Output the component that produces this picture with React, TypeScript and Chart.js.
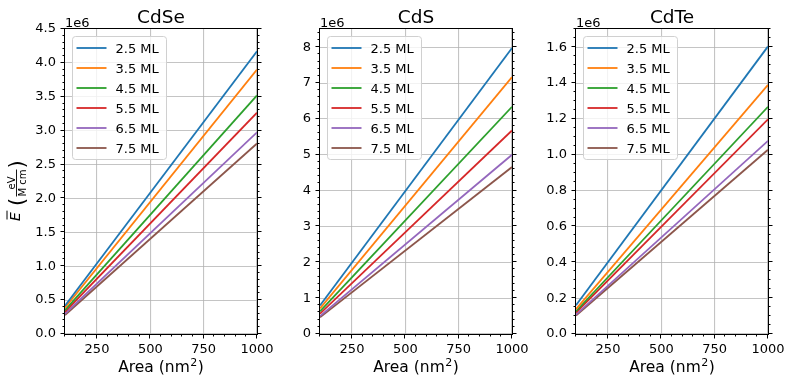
import React, { useEffect, useRef } from "react";
import { Chart, registerables } from "chart.js";

Chart.register(...registerables);

const W = 793;
const H = 385;
const FONT = "'DejaVu Sans', sans-serif";

// ---- data ----
const areas = [100, 1000];
const seriesLabels = ["2.5 ML", "3.5 ML", "4.5 ML", "5.5 ML", "6.5 ML", "7.5 ML"];
const seriesColors = ["#1f77b4", "#ff7f0e", "#2ca02c", "#d62728", "#9467bd", "#8c564b"];

// mean energy (eV / M cm) at areas[0] and areas[1]
const cdseValues = [
  [0.417e6, 4.17e6],
  [0.39e6, 3.9e6],
  [0.352e6, 3.52e6],
  [0.327e6, 3.265e6],
  [0.298e6, 2.975e6],
  [0.281e6, 2.81e6],
];
const cdsValues = [
  [0.798e6, 7.98e6],
  [0.717e6, 7.17e6],
  [0.634e6, 6.34e6],
  [0.568e6, 5.68e6],
  [0.5e6, 5.0e6],
  [0.466e6, 4.66e6],
];
const cdteValues = [
  [0.161e6, 1.605e6],
  [0.139e6, 1.39e6],
  [0.127e6, 1.268e6],
  [0.12e6, 1.198e6],
  [0.108e6, 1.078e6],
  [0.103e6, 1.028e6],
];

const panelTitles = ["CdSe", "CdS", "CdTe"];
const xMajorTicks = [250, 500, 750, 1000];
const cdseYTicks = [0, 0.5e6, 1.0e6, 1.5e6, 2.0e6, 2.5e6, 3.0e6, 3.5e6, 4.0e6, 4.5e6];
const cdsYTicks = [0, 1e6, 2e6, 3e6, 4e6, 5e6, 6e6, 7e6, 8e6];
const cdteYTicks = [0, 0.2e6, 0.4e6, 0.6e6, 0.8e6, 1.0e6, 1.2e6, 1.4e6, 1.6e6];
const yLimits = [4.5e6, 8.51e6, 1.702e6];
const yMinorSteps = [0.1e6, 0.2e6, 0.05e6];
const yDecimals = [1, 0, 1];
const xMin = 100;
const xMax = 1000;
const xMinorStep = 50;

// ---- layout ----
const panelLeft = [65, 320, 576];
const panelRight = [257, 512, 768];
const plotTop = 29;
const plotBottom = 334;
const yAxisW = 40;
const xAxisH = 30;

function line(ctx: CanvasRenderingContext2D, x1: number, y1: number, x2: number, y2: number) {
  ctx.beginPath();
  ctx.moveTo(x1, y1);
  ctx.lineTo(x2, y2);
  ctx.stroke();
}

function drawYLabel(ctx: CanvasRenderingContext2D) {
  ctx.save();
  ctx.translate(19.5, 222);
  ctx.rotate(-Math.PI / 2);
  ctx.fillStyle = "#000";
  ctx.strokeStyle = "#000";
  ctx.textBaseline = "alphabetic";
  ctx.textAlign = "left";
  // E with overline
  ctx.font = `italic 14px ${FONT}`;
  ctx.fillText("E", 1, 0);
  const ew = ctx.measureText("E").width;
  ctx.lineWidth = 1;
  line(ctx, 2.5, -12.5, 2.5 + ew, -12.5);
  // left paren
  ctx.font = `21px ${FONT}`;
  ctx.fillText("(", 16, 4.5);
  // fraction
  ctx.font = `10px ${FONT}`;
  ctx.textAlign = "center";
  const cx = 39;
  ctx.fillText("eV", cx, -5);
  ctx.fillText("M cm", cx, 6);
  ctx.lineWidth = 0.9;
  line(ctx, 25.5, -3, 52.5, -3);
  // right paren
  ctx.textAlign = "left";
  ctx.font = `21px ${FONT}`;
  ctx.fillText(")", 53.5, 4.5);
  ctx.restore();
}

function makeDecor(idx: number) {
  return {
    id: "decor" + idx,
    afterDatasetsDraw(chart: any) {
      const { ctx, chartArea: a } = chart;
      // legend
      const lx = a.left + 7;
      const ly = a.top + 7;
      const lw = 94;
      const lh = 123;
      ctx.save();
      ctx.beginPath();
      (ctx as any).roundRect(lx + 0.5, ly + 0.5, lw, lh, 3);
      ctx.fillStyle = "rgba(255,255,255,0.8)";
      ctx.fill();
      ctx.strokeStyle = "#d0d0d0";
      ctx.lineWidth = 1;
      ctx.stroke();
      chart.data.datasets.forEach((ds: any, i: number) => {
        const yy = ly + 12 + i * 20;
        ctx.strokeStyle = ds.borderColor;
        ctx.lineWidth = 1.8;
        line(ctx, lx + 4.5, yy, lx + 34.5, yy);
        ctx.fillStyle = "#000";
        ctx.font = `13px ${FONT}`;
        ctx.textBaseline = "alphabetic";
        ctx.textAlign = "left";
        ctx.fillText(ds.label, lx + 43.5, yy + 4.7);
      });
      ctx.restore();
    },
    afterDraw(chart: any) {
      const { ctx, chartArea: a, scales } = chart;
      const xs = scales.x;
      const ys = scales.y;
      ctx.save();
      ctx.strokeStyle = "#000";
      ctx.lineWidth = 1;
      // frame
      ctx.strokeRect(Math.round(a.left) - 0.5, Math.round(a.top) - 0.5, Math.round(a.right - a.left) + 1, Math.round(a.bottom - a.top) + 1);
      // x ticks
      const nx = Math.round((xMax - xMin) / xMinorStep);
      for (let i = 0; i <= nx; i++) {
        const v = xMin + i * xMinorStep;
        const major = xMajorTicks.includes(v);
        const px = Math.round(xs.getPixelForValue(v)) - 0.5;
        line(ctx, px, a.bottom, px, a.bottom + (major ? 4.5 : 2.5));
      }
      // y ticks both sides
      const ymax = yLimits[idx];
      const step = yMinorSteps[idx];
      const ny = Math.floor(ymax / step + 1e-6);
      const majors = [cdseYTicks, cdsYTicks, cdteYTicks][idx];
      for (let i = 0; i <= ny; i++) {
        const v = i * step;
        const major = majors.some((m) => Math.abs(m - v) < step * 1e-3);
        const py = Math.round(ys.getPixelForValue(v)) - 0.5;
        const len = major ? 4.5 : 2.5;
        line(ctx, a.left, py, a.left - len, py);
        line(ctx, a.right, py, a.right + len, py);
      }
      // title
      ctx.fillStyle = "#000";
      ctx.textAlign = "center";
      ctx.textBaseline = "alphabetic";
      ctx.font = `18.5px ${FONT}`;
      ctx.fillText(panelTitles[idx], (a.left + a.right) / 2, 23);
      // offset text
      ctx.textAlign = "left";
      ctx.font = `13px ${FONT}`;
      ctx.fillText("1e6", a.left, 26.5);
      // x label: Area (nm^2)
      ctx.font = `15.5px ${FONT}`;
      const p1 = "Area (nm";
      const p3 = ")";
      const w1 = ctx.measureText(p1).width;
      const w3 = ctx.measureText(p3).width;
      ctx.font = `11px ${FONT}`;
      const w2 = ctx.measureText("2").width + 1;
      const total = w1 + w2 + w3;
      const sx = (a.left + a.right) / 2 - total / 2;
      const by = 372;
      ctx.font = `15.5px ${FONT}`;
      ctx.fillText(p1, sx, by);
      ctx.font = `11px ${FONT}`;
      ctx.fillText("2", sx + w1 + 0.5, by - 6.5);
      ctx.font = `15.5px ${FONT}`;
      ctx.fillText(p3, sx + w1 + w2, by);
      ctx.restore();
      if (idx === 0) drawYLabel(ctx);
    },
  };
}

function makeChart(canvas: HTMLCanvasElement, idx: number) {
  const values = [cdseValues, cdsValues, cdteValues][idx];
  const yTicks = [cdseYTicks, cdsYTicks, cdteYTicks][idx];
  const L = panelLeft[idx];
  const R = panelRight[idx];
  const datasets = seriesLabels.map((label, i) => ({
    label,
    data: areas.map((ar, j) => ({ x: ar, y: values[i][j] })),
    borderColor: seriesColors[i],
    backgroundColor: seriesColors[i],
    borderWidth: 1.8,
    pointRadius: 0,
    fill: false,
    tension: 0,
  }));
  const gridColor = "rgba(176,176,176,0.75)";
  return new Chart(canvas, {
    type: "line",
    data: { datasets },
    options: {
      animation: false,
      responsive: false,
      devicePixelRatio: 1,
      events: [],
      layout: {
        padding: { left: L - yAxisW, right: W - R, top: plotTop, bottom: H - plotBottom - xAxisH },
      },
      plugins: {
        legend: { display: false },
        title: { display: false },
        tooltip: { enabled: false },
      },
      scales: {
        x: {
          type: "linear",
          min: xMin,
          max: xMax,
          afterBuildTicks: (s: any) => {
            s.ticks = xMajorTicks.map((v) => ({ value: v }));
          },
          afterFit: (s: any) => {
            s.height = xAxisH;
          },
          grid: { color: gridColor, lineWidth: 1.1, drawTicks: false },
          border: { display: false },
          ticks: {
            padding: 8,
            color: "#000",
            font: { family: FONT, size: 13 },
            maxRotation: 0,
            minRotation: 0,
            autoSkip: false,
            callback: (v: any) => String(v),
          },
        },
        y: {
          type: "linear",
          min: 0,
          max: yLimits[idx],
          afterBuildTicks: (s: any) => {
            s.ticks = yTicks.map((v) => ({ value: v }));
          },
          afterFit: (s: any) => {
            s.width = yAxisW;
          },
          grid: { color: gridColor, lineWidth: 1.1, drawTicks: false },
          border: { display: false },
          ticks: {
            padding: 9,
            color: "#000",
            font: { family: FONT, size: 13 },
            autoSkip: false,
            callback: (v: any) => (Number(v) / 1e6).toFixed(yDecimals[idx]),
          },
        },
      },
    } as any,
    plugins: [makeDecor(idx)],
  });
}

export default function App() {
  const r0 = useRef<HTMLCanvasElement>(null);
  const r1 = useRef<HTMLCanvasElement>(null);
  const r2 = useRef<HTMLCanvasElement>(null);
  useEffect(() => {
    const refs = [r0, r1, r2];
    const charts = refs.map((r, i) => makeChart(r.current as HTMLCanvasElement, i));
    return () => charts.forEach((c) => c.destroy());
  }, []);
  return (
    <div style={{ position: "absolute", left: 0, top: 0, width: W, height: H, background: "#fff" }}>
      {[r0, r1, r2].map((r, i) => (
        <canvas
          key={i}
          ref={r}
          width={W}
          height={H}
          style={{ position: "absolute", left: 0, top: 0, width: W, height: H }}
        />
      ))}
    </div>
  );
}
